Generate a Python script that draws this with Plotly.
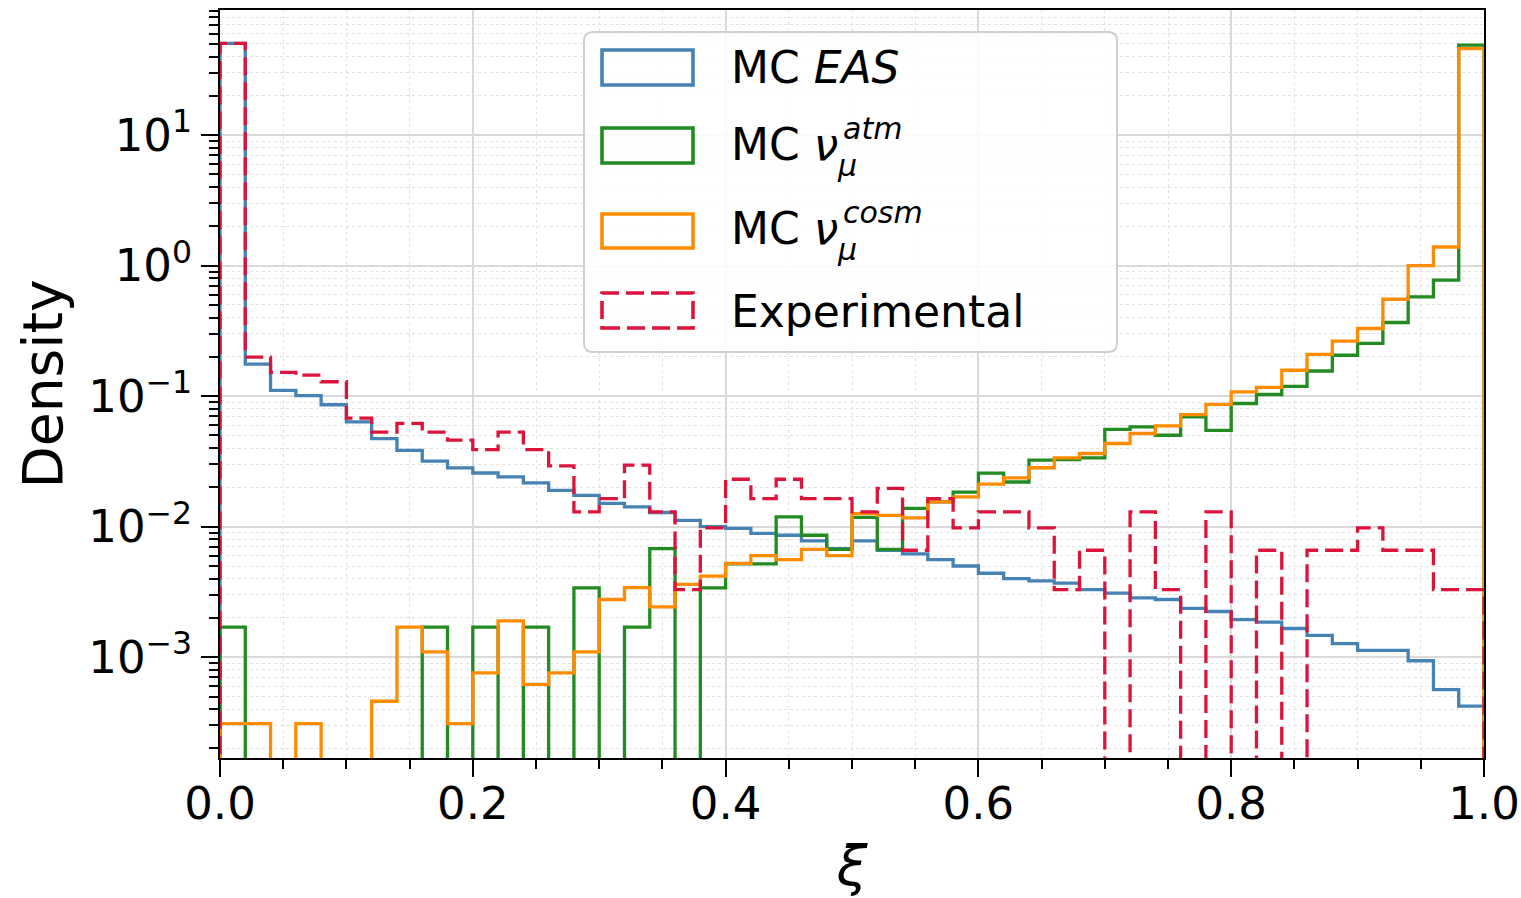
import numpy as np
import plotly.graph_objects as go

# ---------------- data (density per bin, 50 bins on [0, 1]) ----------------
bin_edges = np.linspace(0.0, 1.0, 51)

mc_eas = [50.5, 0.176, 0.111, 0.101, 0.086, 0.0635, 0.0473, 0.0385, 0.0318, 0.0282,
          0.0258, 0.0241, 0.0217, 0.0190, 0.0174, 0.0151, 0.0142, 0.01285, 0.0112, 0.0100,
          0.0097, 0.0089, 0.0086, 0.0078, 0.0068, 0.0078, 0.0066, 0.0062, 0.0056, 0.0050,
          0.0044, 0.0040, 0.00385, 0.0037, 0.0033, 0.0031, 0.00285, 0.00277, 0.00237, 0.00224,
          0.00194, 0.00186, 0.00166, 0.00147, 0.00127, 0.00113, 0.00113, 0.00094, 0.000565, 0.000422]

mc_atm = [0.0017, 0, 0, 0, 0, 0, 0, 0, 0.0017, 0,
          0.0017, 0, 0.0017, 0, 0.0034, 0, 0.0017, 0.0068, 0, 0.0034,
          0.0052, 0.0052, 0.0119, 0.0086, 0.0067, 0.0118, 0.0067, 0.0138, 0.0155, 0.0184,
          0.0257, 0.0220, 0.0324, 0.0327, 0.0337, 0.0556, 0.0582, 0.0502, 0.0694, 0.0548,
          0.0879, 0.103, 0.119, 0.156, 0.206, 0.254, 0.367, 0.577, 0.774, 49.0]

mc_cosm = [0.00031, 0.00031, 0, 0.00031, 0, 0, 0.00046, 0.0017, 0.0011, 0.00031,
           0.00076, 0.0019, 0.00062, 0.00076, 0.0011, 0.00277, 0.00342, 0.00243, 0.00362, 0.00418,
           0.00523, 0.0060, 0.0056, 0.0067, 0.0060, 0.0126, 0.0122, 0.0117, 0.0155, 0.0169,
           0.0212, 0.0237, 0.0283, 0.0337, 0.0364, 0.0434, 0.0518, 0.0593, 0.0723, 0.0865,
           0.108, 0.117, 0.158, 0.209, 0.264, 0.330, 0.553, 1.0, 1.39, 46.1]

experimental = [50.5, 0.199, 0.152, 0.145, 0.129, 0.068, 0.053, 0.062, 0.053, 0.046,
                0.039, 0.053, 0.039, 0.0293, 0.0130, 0.0164, 0.0296, 0.0130, 0.0033, 0.0098,
                0.0231, 0.0164, 0.0231, 0.0164, 0.0164, 0.0130, 0.0197, 0.0066, 0.0164, 0.0098,
                0.0130, 0.0130, 0.0098, 0.0033, 0.0066, 0, 0.0130, 0.0033, 0, 0.0130,
                0, 0.0066, 0, 0.0066, 0.0066, 0.0098, 0.0066, 0.0066, 0.0033, 0.0033]

series_names = ["MC EAS", "MC ν_μ^atm", "MC ν_μ^cosm", "Experimental"]
y_tick_vals = [1e-3, 1e-2, 1e-1, 1e0, 1e1]
y_tick_text = ["10<sup>−3</sup>", "10<sup>−2</sup>", "10<sup>−1</sup>", "10<sup>0</sup>", "10<sup>1</sup>"]
x_tick_vals = [0.0, 0.2, 0.4, 0.6, 0.8, 1.0]

# ---------------- styling ----------------
FONT = "DejaVu Sans"
COLORS = ["#4682B4", "#228B22", "#FF8C00", "#DC143C"]
DASHES = ["solid", "solid", "solid", "18px,7px"]
LW = 3.3
FLOOR = 1e-7  # empty bins drop below the visible log range (like matplotlib)


def step_outline(edges, values):
    v = np.asarray(values, dtype=float)
    v = np.where(v > 0, v, FLOOR)
    xs = np.concatenate([[edges[0]], np.column_stack([edges[:-1], edges[1:]]).ravel(), [edges[-1]]])
    ys = np.concatenate([[FLOOR], np.repeat(v, 2), [FLOOR]])
    return xs, ys


fig = go.Figure()
for name, vals, col, dash in zip(series_names,
                                 [mc_eas, mc_atm, mc_cosm, experimental],
                                 COLORS, DASHES):
    xs, ys = step_outline(bin_edges, vals)
    fig.add_trace(go.Scatter(x=xs, y=ys, mode="lines", name=name,
                             line=dict(color=col, width=LW, dash=dash, simplify=False),
                             showlegend=False, hoverinfo="skip"))

# plot area in pixels
PL, PR, PT, PB = 220, 1484, 10, 758


def px(x):
    return (x - PL) / (PR - PL)


def py(y):
    return (PB - y) / (PB - PT)


minor_y = [m * 10.0 ** k for k in range(-4, 2) for m in range(2, 10)]

fig.update_layout(
    width=1521, height=898,
    margin=dict(l=PL, r=1521 - PR, t=PT, b=898 - PB, autoexpand=False),
    paper_bgcolor="white", plot_bgcolor="white",
    font=dict(family=FONT, size=45, color="black"),
    showlegend=False,
)

fig.update_xaxes(
    range=[0, 1], tickmode="array", tickvals=x_tick_vals, tickformat=".1f",
    ticks="outside", ticklen=17, tickwidth=2, tickcolor="black",
    ticklabelstandoff=-12,
    showline=True, linecolor="black", linewidth=2, mirror=True,
    showgrid=True, gridcolor="#dadada", gridwidth=1.8,
    zeroline=False, automargin=False,
    tickfont=dict(family=FONT, size=45, color="black"),
    title=dict(text="<i>ξ</i>", font=dict(family=FONT, size=55, color="black"), standoff=22),
    minor=dict(dtick=0.05, ticks="outside", ticklen=9, tickwidth=1.5, tickcolor="black",
               showgrid=True, gridcolor="#e2e2e2", gridwidth=1.2, griddash="dot"),
)

fig.update_yaxes(
    type="log", range=[np.log10(1.69e-4), np.log10(91.0)],
    tickmode="array", tickvals=y_tick_vals, ticktext=y_tick_text,
    ticks="outside", ticklen=17, tickwidth=2, tickcolor="black",
    showline=True, linecolor="black", linewidth=2, mirror=True,
    showgrid=True, gridcolor="#dadada", gridwidth=1.8,
    zeroline=False, automargin=False,
    tickfont=dict(family=FONT, size=45, color="black"),
    title=dict(text="Density", font=dict(family=FONT, size=55, color="black"), standoff=8),
    minor=dict(tickmode="array", tickvals=minor_y, ticks="outside", ticklen=9, tickwidth=1.5,
               tickcolor="black", showgrid=True, gridcolor="#e2e2e2", gridwidth=1.2, griddash="dot"),
)

# ---------------- legend (matplotlib-style, drawn by hand) ----------------
box_l, box_r, box_t, box_b, rad = 584, 1117, 32, 352, 9
rx, ry = rad / (PR - PL), rad / (PB - PT)
x0, x1, y0, y1 = px(box_l), px(box_r), py(box_b), py(box_t)
path = (f"M{x0 + rx},{y0} L{x1 - rx},{y0} Q{x1},{y0} {x1},{y0 + ry} "
        f"L{x1},{y1 - ry} Q{x1},{y1} {x1 - rx},{y1} L{x0 + rx},{y1} "
        f"Q{x0},{y1} {x0},{y1 - ry} L{x0},{y0 + ry} Q{x0},{y0} {x0 + rx},{y0} Z")
shapes = [dict(type="path", xref="paper", yref="paper", path=path,
               line=dict(color="#d0d0d0", width=2), fillcolor="rgba(255,255,255,0.85)",
               layer="above")]

rows = [(50, 85), (128, 163), (214, 248), (293, 328)]
for (ya, yb), col, dash in zip(rows, COLORS, DASHES):
    shapes.append(dict(type="rect", xref="paper", yref="paper",
                       x0=px(602), x1=px(693), y0=py(yb), y1=py(ya),
                       line=dict(color=col, width=LW + 0.3, dash=dash), fillcolor="rgba(0,0,0,0)",
                       layer="above"))

LEG = 44
SUB = 30
ann = []


def add_text(text, x, y, size):
    ann.append(dict(text=text, xref="paper", yref="paper", x=px(x), y=py(y),
                    xanchor="left", yanchor="middle", showarrow=False,
                    font=dict(family=FONT, size=size, color="black")))


add_text("MC <i>EAS</i>", 729, 68, LEG)
add_text("MC <i>ν</i>", 729, 144, LEG)
add_text("<i>atm</i>", 841, 129, SUB)
add_text("<i>μ</i>", 835, 165, SUB)
add_text("MC <i>ν</i>", 729, 228, LEG)
add_text("<i>cosm</i>", 841, 213, SUB)
add_text("<i>μ</i>", 835, 250, SUB)
add_text("Experimental", 729, 311, LEG)

fig.update_layout(shapes=shapes, annotations=ann)

fig.write_html("out.html")
